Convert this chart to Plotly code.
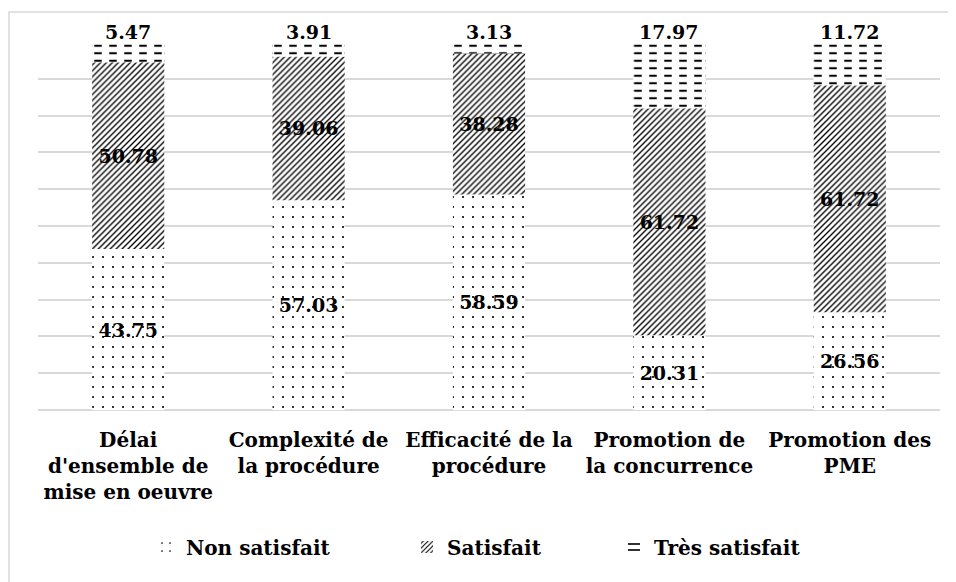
import plotly.graph_objects as go

# ---- data ----
categories = [
    "Délai<br>d'ensemble de<br>mise en oeuvre",
    "Complexité de<br>la procédure",
    "Efficacité de la<br>procédure",
    "Promotion de<br>la concurrence",
    "Promotion des<br>PME",
]
non_satisfait = [43.75, 57.03, 58.59, 20.31, 26.56]
satisfait = [50.78, 39.06, 38.28, 61.72, 61.72]
tres_satisfait = [5.47, 3.91, 3.13, 17.97, 11.72]
series_names = ["Non satisfait", "Satisfait", "Très satisfait"]

FONT = "DejaVu Serif"
GRID = "#d9d9d9"
BAR_W = 0.4

# page has an 8px body margin: figure occupies (8..956, 8..582)
OFF = 8
W, H = 956 - OFF, 582 - OFF
PL, PR, PT, PB = 38 - OFF, 940 - OFF, 42 - OFF, 410 - OFF   # plot area in figure px
PW, PH = PR - PL, PB - PT

base_sat = list(non_satisfait)
base_tres = [a + b for a, b in zip(non_satisfait, satisfait)]

label_font = dict(family=FONT, size=19, color="black", weight="bold")

fig = go.Figure()

fig.add_trace(go.Bar(
    x=categories, y=non_satisfait, base=[0] * len(categories), name=series_names[0],
    width=BAR_W, legend="legend",
    marker=dict(color="white", line=dict(width=0),
                pattern=dict(shape=".", size=10, solidity=0.035,
                             fgcolor="black", bgcolor="white", fillmode="replace")),
    texttemplate="%{y:.2f}", textposition="inside", insidetextanchor="middle",
    textfont=label_font, constraintext="none", hoverinfo="skip",
))
fig.add_trace(go.Bar(
    x=categories, y=satisfait, base=base_sat, name=series_names[1],
    width=BAR_W, legend="legend2",
    marker=dict(color="white", line=dict(width=0),
                pattern=dict(shape="/", size=4.2, solidity=0.32,
                             fgcolor="black", bgcolor="white", fillmode="replace")),
    texttemplate="%{y:.2f}", textposition="inside", insidetextanchor="middle",
    textfont=label_font, constraintext="none", hoverinfo="skip",
))
fig.add_trace(go.Bar(
    x=categories, y=tres_satisfait, base=base_tres, name=series_names[2],
    width=BAR_W, legend="legend3",
    marker=dict(color="white", line=dict(width=0),
                pattern=dict(shape="-", size=7.5, solidity=0.27,
                             fgcolor="black", bgcolor="white", fillmode="replace")),
    textposition="none", hoverinfo="skip",
))
# white vertical gaps turning the horizontal lines into dashes
fig.add_trace(go.Bar(
    x=categories, y=tres_satisfait, base=base_tres, showlegend=False,
    width=BAR_W,
    marker=dict(color="rgba(0,0,0,0)", line=dict(width=0),
                pattern=dict(shape="|", size=15, solidity=0.5,
                             fgcolor="white", bgcolor="rgba(0,0,0,0)", fillmode="replace")),
    textposition="none", hoverinfo="skip",
))

annotations = []
for cat, v, b in zip(categories, tres_satisfait, base_tres):
    annotations.append(dict(
        x=cat, y=b + v, xref="x", yref="y", text=f"{v:.2f}", showarrow=False,
        yanchor="middle", yshift=10, bgcolor="white", borderpad=0,
        font=label_font,
    ))

# Chart border (only top and left edges visible in the frame)
shapes = [dict(type="rect", xref="paper", yref="paper",
               x0=(9 - 38) / PW, x1=1.2, y0=-1.0, y1=1 + (42 - 12) / PH,
               line=dict(color=GRID, width=1.5), fillcolor="rgba(0,0,0,0)", layer="below")]

leg_y = (410 - 547) / PH
legend_common = dict(orientation="h", yanchor="middle", y=leg_y, xanchor="left",
                     font=dict(family=FONT, size=20, color="black", weight="bold"),
                     bgcolor="rgba(0,0,0,0)", itemclick=False, itemdoubleclick=False)

fig.update_layout(
    width=W, height=H,
    margin=dict(l=PL, r=W - PR, t=PT, b=H - PB),
    paper_bgcolor="white", plot_bgcolor="white",
    barmode="overlay",
    showlegend=True,
    legend=dict(x=(146 - 38) / PW, **legend_common),
    legend2=dict(x=(407 - 38) / PW, **legend_common),
    legend3=dict(x=(614 - 38) / PW, **legend_common),
    annotations=annotations,
    shapes=shapes,
    font=dict(family=FONT, color="black"),
)
fig.update_xaxes(
    tickfont=dict(family=FONT, size=20, color="black", weight="bold"),
    showgrid=False, showline=False, ticks="", fixedrange=True,
    ticklabelstandoff=16,
)
fig.update_yaxes(
    range=[0, 100], dtick=10, showticklabels=False, showgrid=True,
    gridcolor=GRID, gridwidth=1.5, zeroline=True, zerolinecolor=GRID,
    zerolinewidth=1.5, ticks="", fixedrange=True,
)

fig.write_html("out.html")
